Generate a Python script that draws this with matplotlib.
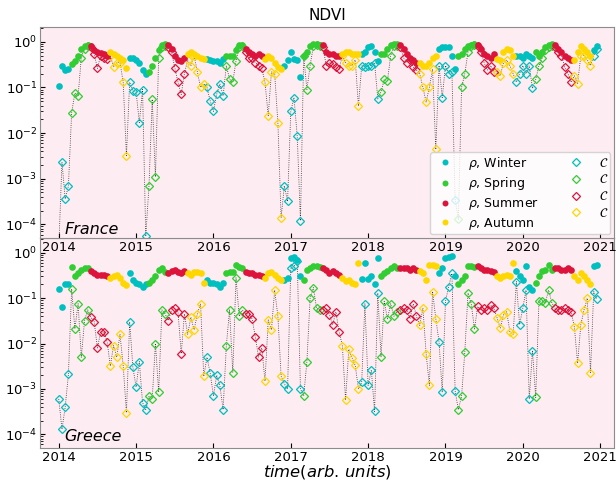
import numpy as np
import matplotlib.pyplot as plt
from matplotlib.lines import Line2D

# Two samples per month, 2014-2020
years = [2014, 2015, 2016, 2017, 2018, 2019, 2020]
per_year = 24

seasons = ["Winter", "Spring", "Summer", "Autumn"]
season_colors = ["c", "limegreen", "crimson", "gold"]

# France: rho (filled circles) and C (open diamonds)
fr_rho = [
    .11, .30, .24, .25, .33, .37, .50, .70, .80, .85, .80, .65, .60, .58, .55, .50, .60, .55, .50, .45, .40, .27, .45, .45,
    .40, .35, .24, .20, .22, .30, .45, .65, .85, .90, .85, .70, .50, .40, .38, .45, .55, .60, .55, .50, .45, .42, .42, .40,
    .38, .38, .35, .42, .50, .50, .50, .65, .85, .85, .70, .60, .55, .50, .55, .50, .42, .50, .45, .35, .28, .25, .30, .40,
    .60, .42, .40, .17, .50, .60, .80, .90, .90, .85, .85, .60, .55, .55, .50, .50, .55, .60, .60, .55, .55, .55, .55, .60,
    .75, .80, .60, .38, .55, .55, .70, .85, .90, .90, .85, .70, .55, .45, .40, .35, .35, .30, .30, .35, .45, .50, .70, .75,
    .75, .75, .50, .25, .50, .55, .70, .80, .85, .90, .85, .70, .55, .50, .45, .55, .42, .40, .60, .70, .65, .50, .50, .50,
    .45, .55, .50, .45, .60, .50, .60, .75, .85, .90, .85, .70, .60, .50, .45, .40, .40, .60, .80, .70, .60, .50, .65, .80,
]
fr_c = [
    3e-5, 2.3e-3, 3.6e-4, 7e-4, 2.8e-2, 7.5e-2, 6.5e-2, .45, .70, .80, .75, .55, .26, .50, .45, .42, .50, .28, .35, .35, .13, 3.2e-3, .13, .085,
    .08, .017, .09, 5.5e-5, 7e-4, .055, 1.1e-3, .45, .75, .80, .75, .60, .27, .13, .07, .20, .40, .30, .50, .22, .10, .12, .10, .05,
    .03, .07, .12, .065, .30, .15, .13, .38, .75, .80, .60, .45, .45, .35, .30, .26, .13, .024, .22, .20, .017, 1.4e-4, 7e-4, 3.2e-4,
    .03, .06, 8.5e-3, 1.2e-4, .50, .09, .30, .80, .85, .80, .75, .30, .35, .32, .28, .25, .50, .35, .30, .30, .40, .039, .30, .28,
    .30, .30, .35, .056, .08, .15, .14, .50, .80, .80, .75, .45, .35, .40, .28, .24, .20, .10, .048, .10, .25, 4.4e-3, .30, .06,
    .30, .20, .22, 3.5e-4, 1.3e-4, .10, .20, .60, .80, .85, .80, .60, .35, .24, .30, .22, .22, .18, .35, .40, .30, .20, .13, .20,
    .30, .20, .30, .095, .15, .30, .45, .65, .75, .80, .75, .60, .50, .28, .20, .13, .18, .12, .50, .50, .40, .30, .50, .70,
]

# Greece
gr_rho = [
    .16, .065, .20, .21, .48, .30, .35, .42, .45, .45, .40, .35, .33, .32, .32, .30, .28, .30, .32, .28, .22, .19, .35, .25,
    .22, .20, .18, .20, .22, .25, .30, .42, .45, .38, .35, .40, .42, .38, .35, .40, .35, .33, .38, .38, .36, .22, .25, .22,
    .22, .20, .18, .22, .35, .38, .38, .55, .48, .45, .38, .36, .35, .33, .32, .30, .28, .35, .38, .33, .28, .25, .25, .28,
    .75, .80, .70, .30, .25, .42, .45, .50, .50, .48, .45, .42, .36, .40, .35, .32, .28, .24, .25, .22, .21, .58, .27, .58,
    .27, .30, .20, .75, .30, .35, .40, .45, .50, .45, .45, .45, .45, .42, .45, .42, .40, .35, .25, .55, .55, .50, .35, .45,
    .75, .80, .85, .30, .20, .25, .30, .50, .50, .48, .50, .45, .42, .42, .40, .38, .30, .28, .30, .32, .30, .60, .40, .30,
    .25, .50, .18, .15, .22, .30, .40, .42, .55, .42, .45, .45, .42, .42, .45, .42, .30, .25, .35, .30, .25, .20, .50, .55,
]
gr_c = [
    6e-4, 1.3e-4, 4e-4, 2.1e-3, .16, .021, .075, 5e-3, .032, .055, .038, .03, 8e-3, .018, .018, .011, 3.2e-3, 9e-3, 5e-3, .016, 3.2e-3, 3e-4, .03, 3e-3,
    1.1e-3, 4e-3, 5e-4, 3.5e-4, 7e-4, 6e-4, .01, 8.5e-4, .055, .045, .032, .055, .06, .05, 6e-3, .045, .016, .038, .02, .045, .075, 1.9e-3, 5e-3, 2.2e-3,
    7e-4, 2e-3, 1.2e-3, 3.5e-4, 9e-3, .055, 2.3e-3, .28, .04, .055, .045, .045, .035, .014, 5e-3, 8e-3, 1.5e-3, .033, .02, .15, .04, 1.9e-3, 1.3e-3, 1e-3,
    .45, .50, .65, 1e-3, 7e-4, 4e-3, .10, .17, .06, .055, .055, .06, .043, .026, .05, .018, 9e-3, 5.7e-4, 7.5e-3, 4.9e-3, 3.3e-3, 1e-3, 1.4e-3, .075,
    1.2e-3, 2.6e-3, 3.2e-4, .13, 5e-3, .085, .035, .075, .04, .05, .055, .06, .055, .035, .075, .04, .025, .06, 6e-3, 1.2e-3, .14, .035, .011, 8.4e-4,
    .085, .18, .35, 9e-4, 3.5e-4, 7e-4, 6.5e-3, .13, .075, .021, .066, .055, .06, .055, .07, .06, .037, .022, .043, .05, .018, .016, .23, .026,
    .06, .15, 6e-4, 7e-3, 6.5e-4, .085, .085, .08, .15, .08, .06, .055, .056, .06, .055, .05, .023, 3.7e-3, .026, .055, .10, 2.3e-3, .14, .095,
]

# time axis and season of each sample
k = np.tile(np.arange(per_year), len(years))
t = np.repeat(years, per_year) + k / per_year
month = k // 2
season = ((month + 1) % 12) // 3

fig = plt.figure(figsize=(6.16, 4.83), dpi=100)
ax1 = fig.add_axes([0.065, 0.507, 0.932, 0.437])
ax2 = fig.add_axes([0.065, 0.0724, 0.932, 0.4346])
ax1.set_zorder(2)  # keep top panel's year labels above the lower panel

panels = [(ax1, fr_rho, fr_c, "France"), (ax2, gr_rho, gr_c, "Greece")]
for ax, rho, c, name in panels:
    rho = np.array(rho)
    c = np.array(c)
    ax.set_facecolor("#fdedf2")
    ax.plot(t, c, ":", color="k", lw=0.6, alpha=0.8, zorder=1)
    for s in range(4):
        m = season == s
        ax.plot(t[m], c[m], "D", ms=4.5, mfc="none", mec=season_colors[s], mew=0.9, ls="none", zorder=2)
        ax.plot(t[m], rho[m], "o", ms=4.8, color=season_colors[s], mec="none", ls="none", zorder=3)
    ax.set_yscale("log")
    ax.set_ylim(5e-5, 2.1)
    ax.set_xlim(2013.758, 2021.181)
    ax.set_xticks(range(2014, 2022))
    ax.set_xticklabels([str(y) for y in range(2014, 2022)])
    ax.tick_params(which="both", direction="in", labelsize=9.5, pad=2)
    for sp in ax.spines.values():
        sp.set_color("0.55")
    ax.text(0.042, 0.02 if name == "France" else 0.034, name, style="italic",
            fontsize=11.5, transform=ax.transAxes, va="baseline")

ax1.set_title("NDVI", fontsize=11, pad=5)
ax2.set_xlabel(r"$time(arb.\,units)$", fontsize=11.8, labelpad=-0.5)

handles = [Line2D([], [], marker="o", ls="none", color=col, mec="none", ms=4.3) for col in season_colors]
handles += [Line2D([], [], marker="D", ls="none", mfc="none", mec=col, mew=0.9, ms=4.5) for col in season_colors]
labels = [r"$\rho$, " + s for s in seasons] + [r"$\mathcal{C}$"] * 4
ax1.legend(handles, labels, ncol=2, loc="lower right", fontsize=9, framealpha=0.8,
           borderaxespad=0.3, borderpad=0.2, columnspacing=2.0, labelspacing=0.3)

fig.savefig("out.png", dpi=100)
